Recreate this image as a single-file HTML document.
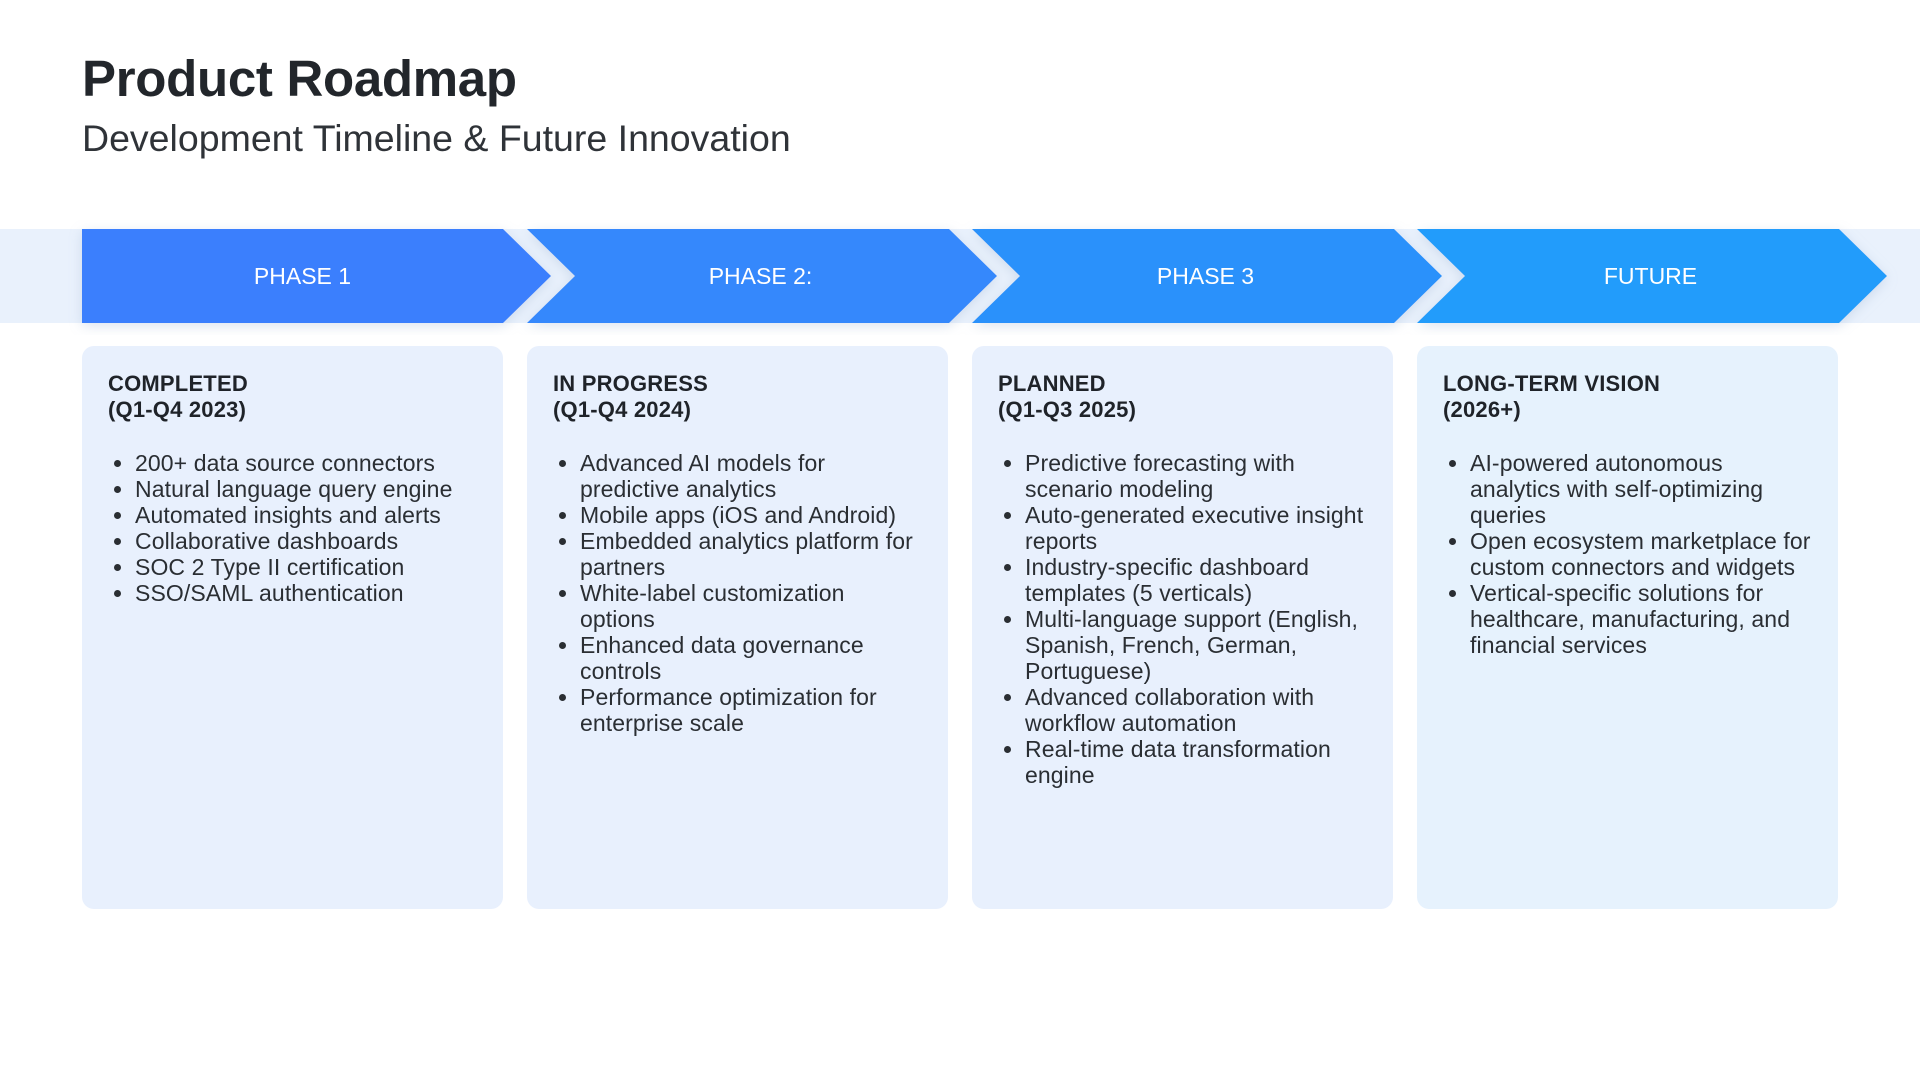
<!DOCTYPE html>
<html><head><meta charset="utf-8"><style>
body{margin:0;width:1920px;height:1080px;background:#fff;font-family:"Liberation Sans",sans-serif;position:relative;overflow:hidden;color:#1f2329}
h1{position:absolute;left:82px;top:49px;margin:0;font-size:51px;font-weight:700;color:#22262b;letter-spacing:-0.3px}
.sub{position:absolute;left:82px;top:117px;font-size:37.5px;color:#2f3338}
.card{position:absolute;top:346px;width:421px;height:563px;background:#e8f0fd;border-radius:12px;box-sizing:border-box;padding:25px 20px 0 26px}
.card h3{margin:0;font-size:22px;line-height:26px;font-weight:700;color:#1f2329;letter-spacing:0.2px}
.card ul{margin:27px 0 0 0;padding-left:27px;font-size:23px;line-height:26px;color:#2a2e33;letter-spacing:0.1px}
.lbl{position:absolute;top:256px;font-size:23px;color:#fff;text-align:center;width:421px;line-height:40px}
</style></head><body>
<h1>Product Roadmap</h1>
<div class="sub">Development Timeline &amp; Future Innovation</div>
<svg style="position:absolute;left:0;top:220px" width="1920" height="115">
<defs><filter id="s" x="-5%" y="-30%" width="110%" height="160%"><feDropShadow dx="0" dy="3" stdDeviation="6" flood-color="#9bb0d0" flood-opacity="0.35"/></filter></defs>
<rect x="0" y="9" width="1920" height="94" fill="#e9f1fc"/>
<g filter="url(#s)">
<polygon points="82,9 503,9 551,56 503,103 82,103" fill="#3b7ffd"/>
<polygon points="527,9 949,9 997,56 949,103 527,103 575,56" fill="#3488fc"/>
<polygon points="972,9 1394,9 1442,56 1394,103 972,103 1020,56" fill="#2c91fb"/>
<polygon points="1417,9 1839,9 1887,56 1839,103 1417,103 1465,56" fill="#249cfb"/>
</g>
</svg>
<div class="lbl" style="left:92px">PHASE 1</div>
<div class="lbl" style="left:550px">PHASE 2:</div>
<div class="lbl" style="left:995px">PHASE 3</div>
<div class="lbl" style="left:1440px">FUTURE</div>

<div class="card" style="left:82px"><h3>COMPLETED<br>(Q1-Q4 2023)</h3><ul>
<li>200+ data source connectors</li><li>Natural language query engine</li><li>Automated insights and alerts</li><li>Collaborative dashboards</li><li>SOC 2 Type II certification</li><li>SSO/SAML authentication</li></ul></div>

<div class="card" style="left:527px"><h3>IN PROGRESS<br>(Q1-Q4 2024)</h3><ul>
<li>Advanced AI models for<br>predictive analytics</li><li>Mobile apps (iOS and Android)</li><li>Embedded analytics platform for partners</li><li>White-label customization<br>options</li><li>Enhanced data governance<br>controls</li><li>Performance optimization for enterprise scale</li></ul></div>

<div class="card" style="left:972px"><h3>PLANNED<br>(Q1-Q3 2025)</h3><ul>
<li>Predictive forecasting with<br>scenario modeling</li><li>Auto-generated executive insight reports</li><li>Industry-specific dashboard templates (5 verticals)</li><li>Multi-language support (English, Spanish, French, German, Portuguese)</li><li>Advanced collaboration with workflow automation</li><li>Real-time data transformation engine</li></ul></div>

<div class="card" style="left:1417px;background:#e6f2fd"><h3>LONG-TERM VISION<br>(2026+)</h3><ul>
<li>AI-powered autonomous<br>analytics with self-optimizing queries</li><li>Open ecosystem marketplace for custom connectors and widgets</li><li>Vertical-specific solutions for healthcare, manufacturing, and financial services</li></ul></div>
</body></html>
